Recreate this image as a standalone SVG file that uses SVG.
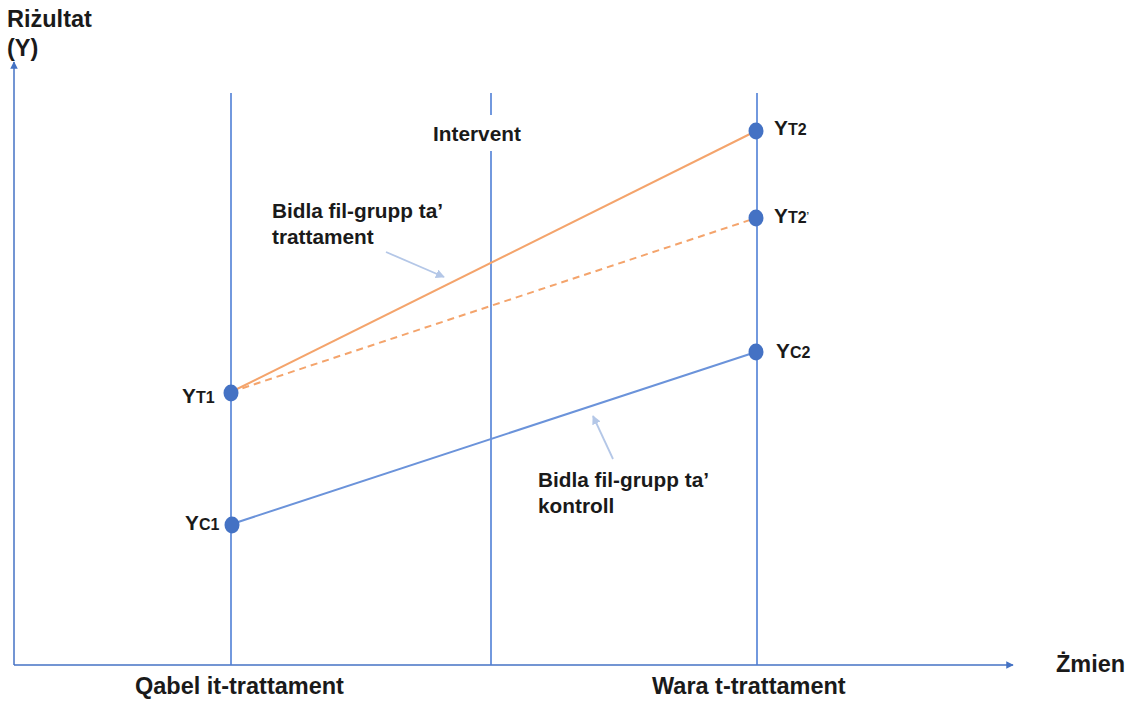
<svg xmlns="http://www.w3.org/2000/svg" width="1127" height="701" viewBox="0 0 1127 701">
<style>
text{font-family:"Liberation Sans",Arial,sans-serif;font-weight:bold;fill:#1a1a1a}
.big{font-size:23.5px}
.mid{font-size:20.8px}
.sub{font-size:16px}
.axis{stroke:#4472C4;stroke-width:1.5;fill:none}
.vline{stroke:#4F7FD6;stroke-width:1.6;fill:none}
.dot{fill:#4472C4}
.ptr{stroke:#B4C7E7;stroke-width:1.8;fill:none}
</style>
<defs>
<marker id="ax" viewBox="0 0 10 10" refX="9" refY="5" markerWidth="5" markerHeight="5" orient="auto"><path d="M0,0L10,5L0,10z" fill="#4472C4"/></marker>
<marker id="pa" viewBox="0 0 10 10" refX="9" refY="5" markerWidth="5" markerHeight="5" orient="auto"><path d="M0,0L10,5L0,10z" fill="#B4C7E7"/></marker>
</defs>
<rect width="1127" height="701" fill="#fff"/>
<g id="axes">
<line class="axis" x1="14" y1="665" x2="14" y2="62" marker-end="url(#ax)"/>
<line class="axis" x1="14" y1="665" x2="1013" y2="665" marker-end="url(#ax)"/>
<text class="big" x="7" y="27">Riżultat</text>
<text class="big" x="7" y="56">(Y)</text>
<text class="big" x="1056" y="672">Żmien</text>
</g>
<g id="time-lines">
<line class="vline" x1="231" y1="93" x2="231" y2="665"/>
<line class="vline" x1="491" y1="93" x2="491" y2="665"/>
<line class="vline" x1="757" y1="93" x2="757" y2="665"/>
</g>
<g id="intervent">
<rect x="428" y="115" width="98" height="36" fill="#fff"/>
<text class="mid" x="433" y="141">Intervent</text>
</g>
<g id="connectors">
<line x1="231" y1="392" x2="756" y2="131" stroke="#F4A46C" stroke-width="2"/>
<line x1="231" y1="392" x2="756" y2="218" stroke="#F4A46C" stroke-width="2" stroke-dasharray="7,5"/>
<line x1="232" y1="524" x2="756" y2="352" stroke="#6B93DA" stroke-width="2"/>
<line class="ptr" x1="386" y1="252" x2="444" y2="277" marker-end="url(#pa)"/>
<line class="ptr" x1="613" y1="459" x2="593" y2="416" marker-end="url(#pa)"/>
</g>
<g id="YT1">
<ellipse class="dot" cx="231" cy="393" rx="7.5" ry="8.5"/>
<text class="mid" x="182" y="403">Y<tspan class="sub">T1</tspan></text>
</g>
<g id="YC1">
<ellipse class="dot" cx="232" cy="525" rx="7.5" ry="8.5"/>
<text class="mid" x="185" y="530">Y<tspan class="sub">C1</tspan></text>
</g>
<g id="YT2">
<ellipse class="dot" cx="756" cy="131" rx="7.5" ry="8.5"/>
<text class="mid" x="774" y="135">Y<tspan class="sub">T2</tspan></text>
</g>
<g id="YT2p">
<ellipse class="dot" cx="756" cy="218" rx="7.5" ry="8.5"/>
<text class="mid" x="774" y="223">Y<tspan class="sub">T2</tspan><tspan font-size="9px" dy="-5">’</tspan></text>
</g>
<g id="YC2">
<ellipse class="dot" cx="756" cy="352" rx="7.5" ry="8.5"/>
<text class="mid" x="776" y="358">Y<tspan class="sub">C2</tspan></text>
</g>
<g id="label-treatment">
<text class="mid" x="272" y="218">Bidla fil-grupp ta’</text>
<text class="mid" x="272" y="244">trattament</text>
</g>
<g id="label-control">
<text class="mid" x="538" y="487">Bidla fil-grupp ta’</text>
<text class="mid" x="538" y="513">kontroll</text>
</g>
<g id="x-labels">
<text class="big" x="135" y="694">Qabel it-trattament</text>
<text class="big" x="652" y="694">Wara t-trattament</text>
</g>
</svg>
